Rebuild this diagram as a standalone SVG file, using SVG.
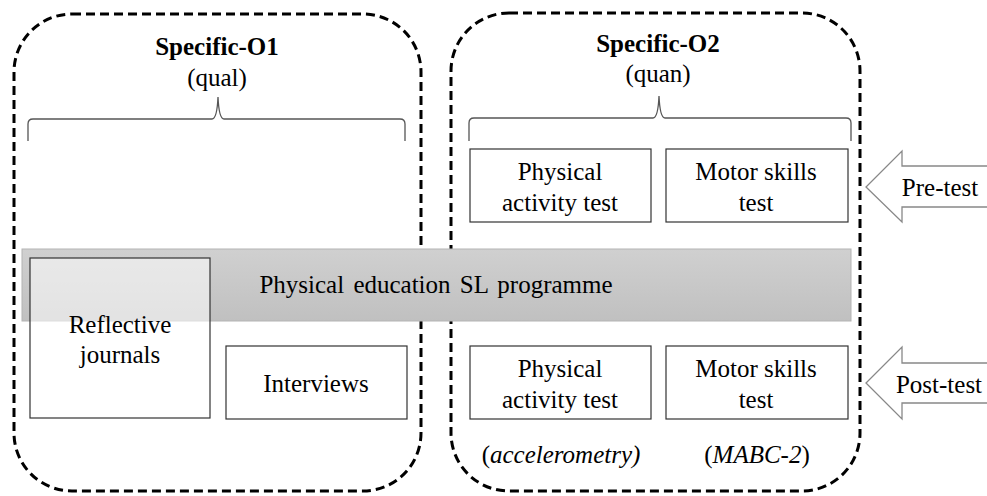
<svg xmlns="http://www.w3.org/2000/svg" width="987" height="496" viewBox="0 0 987 496">
<style>
.dash{fill:none;stroke:#000;stroke-width:3;stroke-dasharray:9 5}
.box{fill:#fff;stroke:#333;stroke-width:1.2}
.brace{fill:none;stroke:#555;stroke-width:1.3}
.arrow{fill:#fff;stroke:#888;stroke-width:1.3}
text{font-family:"Liberation Serif","Times New Roman",serif;font-size:25px;fill:#000;text-anchor:middle}
.b{font-weight:bold}
.i{font-style:italic}
</style>
<defs>
<linearGradient id="g" x1="0" y1="0" x2="0" y2="1">
<stop offset="0" stop-color="#d0d0d0"/>
<stop offset="0.5" stop-color="#c8c8c8"/>
<stop offset="1" stop-color="#c0c0c0"/>
</linearGradient>
</defs>
<g id="group-o1">
<rect class="dash" x="14" y="14" width="407" height="477" rx="58" ry="58"/>
<text class="b" x="217" y="55">Specific-O1</text>
<text x="217" y="86">(qual)</text>
<path class="brace" d="M28 141 L28 124 Q28 119 33 119 L212 119 Q217 119 218 97 Q219 119 224 119 L400 119 Q405 119 405 124 L405 141"/>
</g>
<g id="group-o2">
<rect class="dash" x="451" y="13" width="409" height="478" rx="58" ry="58"/>
<text class="b" x="658" y="52">Specific-O2</text>
<text x="658" y="82">(quan)</text>
<path class="brace" d="M469 141 L469 123 Q469 118 474 118 L653 118 Q658 118 659 96 Q660 118 665 118 L846 118 Q851 118 851 123 L851 141"/>
</g>
<g id="programme">
<rect x="22" y="249" width="829" height="72" fill="url(#g)" stroke="#b4b4b4" stroke-width="1"/>
<text x="436" y="293" word-spacing="3">Physical education SL programme</text>
</g>
<g id="reflective-journals">
<rect x="30" y="258" width="180" height="160" fill="#fff" fill-opacity="0.55" stroke="#333" stroke-width="1.2"/>
<text x="120" y="333">Reflective</text>
<text x="120" y="363">journals</text>
</g>
<g id="interviews">
<rect class="box" x="226" y="346" width="181" height="73"/>
<text x="316" y="392">Interviews</text>
</g>
<g id="pa-pre">
<rect class="box" x="470" y="149" width="181" height="73"/>
<text x="560" y="180">Physical</text>
<text x="560" y="211">activity  test</text>
</g>
<g id="ms-pre">
<rect class="box" x="666" y="149" width="182" height="73"/>
<text x="756" y="180">Motor skills</text>
<text x="756" y="211">test</text>
</g>
<g id="pa-post">
<rect class="box" x="470" y="346" width="181" height="73"/>
<text x="560" y="377">Physical</text>
<text x="560" y="408">activity  test</text>
<text x="561" y="463">(<tspan class="i">accelerometry)</tspan></text>
</g>
<g id="ms-post">
<rect class="box" x="666" y="346" width="182" height="73"/>
<text x="756" y="377">Motor skills</text>
<text x="756" y="408">test</text>
<text x="757" y="463">(<tspan class="i">MABC-2</tspan>)</text>
</g>
<g id="connectors">
<g id="pre-test">
<path class="arrow" d="M988 166 L902 166 L902 151 L866 187 L902 222 L902 207 L988 207"/>
<text x="940" y="196">Pre-test</text>
</g>
<g id="post-test">
<path class="arrow" d="M988 363 L902 363 L902 347 L866 383 L902 419 L902 403 L988 403"/>
<text x="939" y="393">Post-test</text>
</g>
</g>
</svg>
